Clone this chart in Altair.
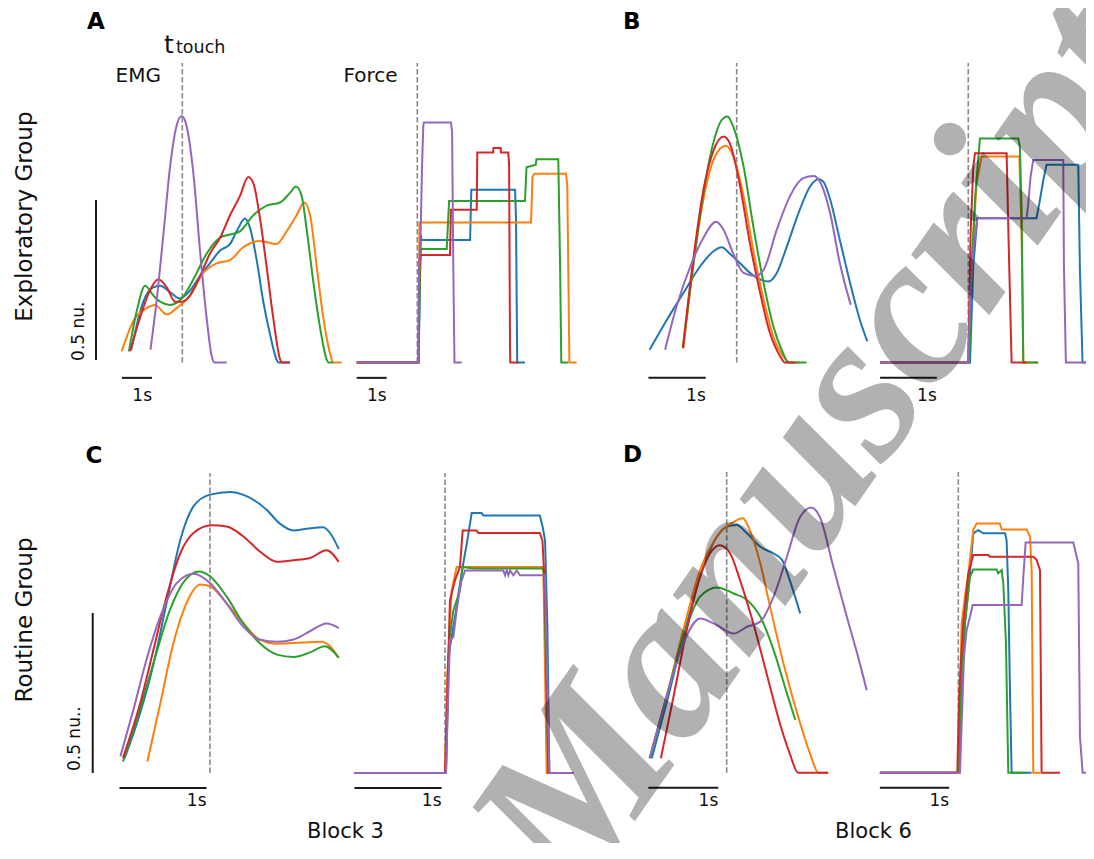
import altair as alt
import pandas as pd

# ---------------- colours / series ----------------
SERIES = ["blue", "orange", "green", "red", "purple"]
SERIES_COLORS = ["#1f77b4", "#ff7f0e", "#2ca02c", "#d62728", "#9467bd"]

# ---------------- Panel A : EMG (time s rel. t_touch, amplitude nu) ----------------
A_EMG_BLUE = [(-1.70, 0.04), (-1.30, 0.19), (-0.97, 0.235), (-0.74, 0.24), (-0.41, 0.22), (-0.08, 0.20),
              (0.26, 0.225), (0.59, 0.27), (0.92, 0.31), (1.26, 0.35), (1.59, 0.37), (1.81, 0.41),
              (2.09, 0.45), (2.26, 0.42), (2.48, 0.32), (2.70, 0.19), (2.92, 0.09), (3.14, 0.01),
              (3.20, 0.0), (3.59, 0.0)]
A_EMG_ORANGE = [(-2.02, 0.035), (-1.63, 0.13), (-1.19, 0.17), (-0.91, 0.18), (-0.52, 0.15), (-0.19, 0.17),
                (0.26, 0.21), (0.70, 0.28), (1.14, 0.31), (1.59, 0.32), (2.03, 0.36), (2.59, 0.38),
                (3.14, 0.37), (3.48, 0.41), (3.81, 0.46), (4.06, 0.50), (4.26, 0.46), (4.48, 0.30),
                (4.70, 0.14), (4.92, 0.03), (5.03, 0.0), (5.31, 0.0)]
A_EMG_GREEN = [(-1.78, 0.035), (-1.52, 0.16), (-1.24, 0.24), (-0.97, 0.21), (-0.74, 0.19), (-0.41, 0.18),
               (-0.02, 0.20), (0.37, 0.26), (0.81, 0.34), (1.26, 0.39), (1.59, 0.40), (1.92, 0.41),
               (2.37, 0.46), (2.81, 0.49), (3.26, 0.50), (3.59, 0.53), (3.79, 0.55), (3.98, 0.52),
               (4.14, 0.42), (4.37, 0.25), (4.59, 0.11), (4.81, 0.01), (4.87, 0.0), (5.03, 0.0)]
A_EMG_RED = [(-1.74, 0.035), (-1.41, 0.14), (-1.08, 0.225), (-0.80, 0.26), (-0.52, 0.235), (-0.24, 0.19),
             (-0.02, 0.19), (0.26, 0.21), (0.59, 0.27), (0.92, 0.34), (1.26, 0.39), (1.59, 0.46),
             (1.92, 0.52), (2.20, 0.58), (2.37, 0.56), (2.59, 0.45), (2.81, 0.30), (3.03, 0.14),
             (3.26, 0.01), (3.31, 0.0), (3.59, 0.0)]
A_EMG_PURPLE = [(-1.06, 0.04), (-0.86, 0.19), (-0.63, 0.40), (-0.41, 0.61), (-0.19, 0.74), (-0.02, 0.77),
                (0.14, 0.74), (0.37, 0.59), (0.59, 0.35), (0.81, 0.14), (0.98, 0.02), (1.06, 0.0), (1.48, 0.0)]

# ---------------- Panel A : Force ----------------
A_F_BLUE = [(-2.02, 0), (0.04, 0), (0.12, 0.40), (0.14, 0.383), (1.76, 0.383), (1.80, 0.54), (3.26, 0.54),
            (3.29, 0.45), (3.33, 0), (3.59, 0)]
A_F_ORANGE = [(-2.02, 0), (0.05, 0), (0.07, 0.4375), (3.79, 0.4375), (3.84, 0.58), (3.90, 0.59), (4.96, 0.59),
              (5.00, 0.55), (5.07, 0), (5.31, 0)]
A_F_GREEN = [(-2.02, 0), (0.04, 0), (0.10, 0.34), (0.14, 0.355), (0.98, 0.355), (1.06, 0.505), (3.59, 0.505),
             (3.64, 0.61), (3.95, 0.618), (3.97, 0.635), (4.70, 0.635), (4.76, 0.30), (4.80, 0), (5.03, 0)]
A_F_RED = [(-2.02, 0), (0.04, 0), (0.07, 0.30), (0.11, 0.336), (1.09, 0.336), (1.12, 0.477), (1.98, 0.477),
           (2.00, 0.656), (2.53, 0.656), (2.54, 0.67), (2.78, 0.67), (2.79, 0.656), (3.03, 0.656),
           (3.06, 0.62), (3.09, 0.05), (3.10, 0), (3.37, 0)]
A_F_PURPLE = [(-2.02, 0), (0.03, 0), (0.06, 0.30), (0.11, 0.40), (0.16, 0.62), (0.20, 0.74), (0.22, 0.75),
              (1.12, 0.75), (1.16, 0.72), (1.20, 0.30), (1.24, 0), (1.48, 0)]

# ---------------- Panel B : EMG ----------------
B_EMG_BLUE = [(-1.52, 0.04), (-1.22, 0.133), (-0.93, 0.217), (-0.64, 0.30), (-0.41, 0.347), (-0.26, 0.36),
              (-0.12, 0.34), (0.06, 0.31), (0.23, 0.28), (0.41, 0.26), (0.55, 0.253), (0.70, 0.28),
              (0.87, 0.36), (1.10, 0.477), (1.28, 0.55), (1.42, 0.573), (1.51, 0.566), (1.63, 0.51),
              (1.80, 0.383), (1.98, 0.248), (2.15, 0.133), (2.28, 0.066)]
B_EMG_ORANGE = [(-0.93, 0.045), (-0.76, 0.30), (-0.58, 0.51), (-0.38, 0.644), (-0.19, 0.677), (-0.06, 0.644),
                (0.12, 0.52), (0.29, 0.35), (0.47, 0.196), (0.64, 0.081), (0.84, 0.0135), (0.93, 0), (1.10, 0)]
B_EMG_GREEN = [(-0.94, 0.045), (-0.76, 0.30), (-0.58, 0.53), (-0.41, 0.685), (-0.26, 0.758), (-0.16, 0.769),
               (-0.06, 0.737), (0.12, 0.6125), (0.29, 0.425), (0.47, 0.248), (0.64, 0.1125), (0.81, 0.029),
               (0.90, 0), (1.22, 0)]
B_EMG_RED = [(-0.94, 0.045), (-0.76, 0.32), (-0.58, 0.54), (-0.41, 0.66), (-0.23, 0.706), (-0.12, 0.685),
             (0.06, 0.55), (0.23, 0.373), (0.41, 0.217), (0.58, 0.092), (0.76, 0.019), (0.84, 0), (1.02, 0)]
B_EMG_PURPLE = [(-1.25, 0.04), (-1.05, 0.175), (-0.81, 0.30), (-0.58, 0.39), (-0.36, 0.44), (-0.23, 0.415),
                (-0.06, 0.34), (0.12, 0.28), (0.32, 0.27), (0.47, 0.29), (0.70, 0.415), (0.93, 0.52),
                (1.16, 0.576), (1.34, 0.583), (1.45, 0.566), (1.63, 0.467), (1.80, 0.31), (1.99, 0.18)]

# ---------------- Panel B : Force ----------------
B_F_BLUE = [(-1.54, 0), (0.03, 0), (0.087, 0.30), (0.157, 0.451), (1.19, 0.451), (1.25, 0.508), (1.31, 0.571),
            (1.366, 0.618), (1.919, 0.618), (1.948, 0.29), (1.994, 0), (2.19, 0)]
B_F_ORANGE = [(-1.54, 0), (0.0, 0), (0.058, 0.30), (0.145, 0.56), (0.233, 0.644), (0.89, 0.644), (0.93, 0.404),
              (0.96, 0), (1.22, 0)]
B_F_GREEN = [(-1.54, 0), (0.017, 0), (0.058, 0.30), (0.116, 0.508), (0.203, 0.70), (0.872, 0.70), (0.90, 0.675),
             (0.93, 0.477), (0.96, 0), (1.22, 0)]
B_F_RED = [(-1.54, 0), (0.0, 0), (0.04, 0.404), (0.087, 0.6125), (0.116, 0.654), (0.669, 0.654), (0.70, 0.404),
           (0.756, 0), (1.02, 0)]
B_F_PURPLE = [(-1.54, 0), (0.0, 0), (0.03, 0.196), (0.087, 0.352), (0.157, 0.451), (1.017, 0.451), (1.047, 0.498),
              (1.087, 0.581), (1.134, 0.633), (1.657, 0.633), (1.669, 0.30), (1.703, 0), (2.19, 0)]

# ---------------- Panel C : EMG ----------------
C_EMG_BLUE = [(-0.98, 0.047), (-0.80, 0.19), (-0.65, 0.34), (-0.50, 0.53), (-0.34, 0.73), (-0.19, 0.833),
              (0.0, 0.87), (0.23, 0.878), (0.42, 0.865), (0.65, 0.823), (0.80, 0.78), (0.96, 0.758),
              (1.11, 0.763), (1.30, 0.768), (1.38, 0.75), (1.48, 0.70)]
C_EMG_ORANGE = [(-0.72, 0.036), (-0.57, 0.219), (-0.42, 0.406), (-0.27, 0.531), (-0.11, 0.589), (0.0, 0.583),
                (0.19, 0.531), (0.38, 0.469), (0.57, 0.417), (0.77, 0.404), (0.96, 0.406), (1.28, 0.41),
                (1.38, 0.396), (1.48, 0.36)]
C_EMG_GREEN = [(-1.0, 0.036), (-0.84, 0.167), (-0.65, 0.344), (-0.46, 0.51), (-0.31, 0.594), (-0.13, 0.63),
               (0.0, 0.615), (0.19, 0.552), (0.38, 0.469), (0.57, 0.406), (0.77, 0.37), (0.96, 0.3625),
               (1.15, 0.377), (1.32, 0.396), (1.48, 0.36)]
C_EMG_RED = [(-1.0, 0.047), (-0.80, 0.22), (-0.65, 0.385), (-0.50, 0.55), (-0.34, 0.6875), (-0.19, 0.75),
             (0.02, 0.774), (0.19, 0.77), (0.38, 0.74), (0.57, 0.693), (0.77, 0.66), (0.96, 0.665),
             (1.15, 0.672), (1.34, 0.696), (1.48, 0.66)]
C_EMG_PURPLE = [(-1.03, 0.052), (-0.88, 0.198), (-0.73, 0.354), (-0.57, 0.49), (-0.38, 0.594), (-0.19, 0.623),
                (0.0, 0.594), (0.19, 0.53), (0.38, 0.458), (0.57, 0.417), (0.77, 0.41), (0.96, 0.417),
                (1.15, 0.443), (1.34, 0.467), (1.48, 0.453)]

# ---------------- Panel C : Force ----------------
C_F_BLUE = [(-1.046, 0), (0.011, 0), (0.038, 0.3625), (0.115, 0.4875), (0.19, 0.623), (0.25, 0.717),
            (0.307, 0.8125), (0.42, 0.8125), (0.44, 0.805), (1.09, 0.805), (1.123, 0.769), (1.15, 0.727),
            (1.176, 0.467), (1.2, 0), (1.475, 0)]
C_F_ORANGE = [(-1.046, 0), (0.0, 0), (0.027, 0.31), (0.077, 0.571), (0.134, 0.644), (1.13, 0.644), (1.169, 0),
              (1.475, 0)]
C_F_GREEN = [(-1.046, 0), (0.011, 0), (0.05, 0.415), (0.096, 0.508), (0.172, 0.571), (0.203, 0.644),
             (0.326, 0.639), (1.123, 0.639), (1.138, 0.623), (1.188, 0), (1.475, 0)]
C_F_RED = [(-1.046, 0), (0.0, 0), (0.027, 0.258), (0.057, 0.54), (0.115, 0.602), (0.172, 0.644), (0.203, 0.758),
           (0.364, 0.758), (0.383, 0.75), (1.09, 0.75), (1.12, 0.727), (1.149, 0.571), (1.188, 0), (1.475, 0)]
C_F_PURPLE = [(-1.046, 0), (0.011, 0), (0.038, 0.258), (0.057, 0.415), (0.096, 0.425), (0.134, 0.508),
              (0.18, 0.592), (0.23, 0.633), (0.67, 0.633), (0.69, 0.618), (0.709, 0.633), (0.728, 0.618),
              (0.747, 0.633), (0.785, 0.618), (0.824, 0.633), (0.862, 0.618), (1.149, 0.618), (1.169, 0.3625),
              (1.2, 0), (1.475, 0)]

# ---------------- Panel D : EMG ----------------
D_EMG_BLUE = [(-1.07, 0.045), (-0.86, 0.217), (-0.62, 0.425), (-0.38, 0.6125), (-0.14, 0.7375), (0.0, 0.769),
              (0.14, 0.774), (0.29, 0.748), (0.48, 0.706), (0.67, 0.685), (0.79, 0.665), (0.90, 0.602),
              (1.05, 0.498)]
D_EMG_ORANGE = [(-1.10, 0.045), (-0.86, 0.2375), (-0.62, 0.446), (-0.38, 0.633), (-0.14, 0.7375), (0.10, 0.784),
                (0.23, 0.795), (0.33, 0.758), (0.48, 0.654), (0.62, 0.519), (0.81, 0.342), (1.05, 0.154),
                (1.19, 0.06), (1.31, 0.0), (1.45, 0.0)]
D_EMG_GREEN = [(-1.10, 0.045), (-0.86, 0.2375), (-0.62, 0.425), (-0.38, 0.55), (-0.14, 0.579), (0.10, 0.56),
               (0.29, 0.54), (0.48, 0.4875), (0.67, 0.383), (0.86, 0.248), (0.98, 0.165)]
D_EMG_RED = [(-0.94, 0.045), (-0.76, 0.2375), (-0.57, 0.446), (-0.38, 0.6125), (-0.24, 0.685), (-0.10, 0.711),
             (0.05, 0.685), (0.19, 0.602), (0.38, 0.467), (0.57, 0.31), (0.76, 0.154), (0.90, 0.06),
             (1.02, 0.0), (1.45, 0.0)]
D_EMG_PURPLE = [(-1.10, 0.045), (-0.86, 0.2375), (-0.62, 0.404), (-0.38, 0.482), (-0.19, 0.467), (0.10, 0.435),
                (0.29, 0.456), (0.48, 0.472), (0.67, 0.55), (0.86, 0.675), (1.05, 0.80), (1.21, 0.829),
                (1.33, 0.80), (1.52, 0.646), (1.71, 0.492), (1.86, 0.376), (2.0, 0.258)]

# ---------------- Panel D : Force ----------------
D_F_BLUE = [(-1.12, 0), (0.005, 0), (0.048, 0.258), (0.095, 0.467), (0.167, 0.623), (0.214, 0.748),
            (0.286, 0.758), (0.357, 0.748), (0.667, 0.748), (0.69, 0.727), (0.714, 0.571), (0.738, 0.258),
            (0.762, 0), (1.048, 0)]
D_F_ORANGE = [(-1.12, 0), (0.0, 0), (0.024, 0.258), (0.048, 0.467), (0.095, 0.55), (0.143, 0.623),
              (0.214, 0.758), (0.262, 0.779), (0.595, 0.779), (0.62, 0.76), (0.976, 0.76), (1.024, 0.7375),
              (1.048, 0.633), (1.071, 0), (1.167, 0)]
D_F_GREEN = [(-1.12, 0), (0.0, 0), (0.033, 0.258), (0.095, 0.467), (0.167, 0.6125), (0.214, 0.635),
             (0.548, 0.635), (0.571, 0.623), (0.619, 0.633), (0.643, 0.592), (0.681, 0.404), (0.714, 0),
             (0.976, 0)]
D_F_RED = [(-1.12, 0), (-0.014, 0), (0.014, 0.258), (0.071, 0.467), (0.143, 0.623), (0.214, 0.68),
           (0.429, 0.68), (0.452, 0.675), (1.071, 0.675), (1.119, 0.665), (1.167, 0.633), (1.19, 0), (1.452, 0)]
D_F_PURPLE = [(-1.12, 0), (0.024, 0), (0.048, 0.154), (0.081, 0.3625), (0.119, 0.446), (0.167, 0.4875),
              (0.205, 0.524), (0.905, 0.524), (0.929, 0.6125), (0.962, 0.719), (1.643, 0.719), (1.714, 0.654),
              (1.738, 0.1125), (1.776, 0), (1.938, 0)]

# scale bars: (start s, end s) of the 1 s bar in each panel
BAR_1S = {"A_EMG": (-2.01, -1.01), "A_FORCE": (-2.02, -1.02), "B_EMG": (-1.54, -0.54), "B_FORCE": (-1.54, -0.55),
          "C_EMG": (-1.04, -0.04), "C_FORCE": (-1.04, -0.04), "D_EMG": (-1.12, -0.12), "D_FORCE": (-1.12, -0.13)}

# ---------------- layout (style): x origin px, px per second, baseline px ----------------
NU_PX = 320.0
LAYOUT = {
    "A_EMG": (174.3, 30.0, 354.5), "A_FORCE": (409.3, 30.0, 354.5),
    "B_EMG": (728.7, 57.3, 354.5), "B_FORCE": (960.3, 57.3, 354.5),
    "C_EMG": (202.0, 87.0, 765.0), "C_FORCE": (437.0, 87.0, 765.0),
    "D_EMG": (718.7, 70.0, 764.7), "D_FORCE": (950.3, 70.0, 764.7),
}
FONT = "DejaVu Sans"
COLOR_SCALE = alt.Scale(domain=SERIES, range=SERIES_COLORS)


def scales(panel):
    ox, k, by = LAYOUT[panel]
    xs = alt.Scale(domain=[0, 1], range=[ox, ox + k], nice=False, zero=False)
    ys = alt.Scale(domain=[0, 1], range=[by, by - NU_PX], nice=False, zero=False)
    return xs, ys


def line_layers(panel, traces, interp, clip=False):
    xs, ys = scales(panel)
    out = []
    for name, pts in zip(SERIES, traces):
        df = pd.DataFrame({"t": [p[0] for p in pts], "v": [p[1] for p in pts],
                           "i": list(range(len(pts))), "trial": name})
        out.append(alt.Chart(df).mark_line(strokeWidth=2, interpolate=interp, clip=clip).encode(
            x=alt.X("t:Q", scale=xs, axis=None),
            y=alt.Y("v:Q", scale=ys, axis=None),
            color=alt.Color("trial:N", scale=COLOR_SCALE, legend=None),
            order=alt.Order("i:Q")))
    return out


def touch_line(panel, top):
    xs, ys = scales(panel)
    df = pd.DataFrame({"t": [0.0], "v0": [0.0], "v1": [top]})
    return alt.Chart(df).mark_rule(color="#8a8a8a", strokeWidth=1.6, strokeDash=[5.5, 2.5]).encode(
        x=alt.X("t:Q", scale=xs, axis=None), y=alt.Y("v0:Q", scale=ys, axis=None), y2="v1:Q")


def hbar(panel, t1, t2, v):
    xs, ys = scales(panel)
    df = pd.DataFrame({"t1": [t1], "t2": [t2], "v": [v]})
    return alt.Chart(df).mark_rule(color="#1a1a1a", strokeWidth=2).encode(
        x=alt.X("t1:Q", scale=xs, axis=None), x2="t2:Q", y=alt.Y("v:Q", scale=ys, axis=None))


def vbar(panel, t, v1, v2):
    xs, ys = scales(panel)
    df = pd.DataFrame({"t": [t], "v1": [v1], "v2": [v2]})
    return alt.Chart(df).mark_rule(color="#1a1a1a", strokeWidth=2).encode(
        x=alt.X("t:Q", scale=xs, axis=None), y=alt.Y("v1:Q", scale=ys, axis=None), y2="v2:Q")


def label(panel, t, v, txt, size, **kw):
    xs, ys = scales(panel)
    df = pd.DataFrame({"t": [t], "v": [v], "label": [txt]})
    props = dict(font=FONT, fontSize=size, color="#111111", baseline="alphabetic")
    props.update(kw)
    return alt.Chart(df).mark_text(**props).encode(
        x=alt.X("t:Q", scale=xs, axis=None), y=alt.Y("v:Q", scale=ys, axis=None), text="label:N")


layers = []

EMG = {"A_EMG": [A_EMG_BLUE, A_EMG_ORANGE, A_EMG_GREEN, A_EMG_RED, A_EMG_PURPLE],
       "B_EMG": [B_EMG_BLUE, B_EMG_ORANGE, B_EMG_GREEN, B_EMG_RED, B_EMG_PURPLE],
       "C_EMG": [C_EMG_BLUE, C_EMG_ORANGE, C_EMG_GREEN, C_EMG_RED, C_EMG_PURPLE],
       "D_EMG": [D_EMG_BLUE, D_EMG_ORANGE, D_EMG_GREEN, D_EMG_RED, D_EMG_PURPLE]}
FORCE = {"A_FORCE": [A_F_BLUE, A_F_ORANGE, A_F_GREEN, A_F_RED, A_F_PURPLE],
         "B_FORCE": [B_F_BLUE, B_F_ORANGE, B_F_GREEN, B_F_RED, B_F_PURPLE],
         "C_FORCE": [C_F_BLUE, C_F_ORANGE, C_F_GREEN, C_F_RED, C_F_PURPLE],
         "D_FORCE": [D_F_BLUE, D_F_ORANGE, D_F_GREEN, D_F_RED, D_F_PURPLE]}
TOUCH_TOP = {"A": 0.936, "B": 0.936, "C": 0.9375, "D": 0.94}

for p in ["A", "B", "C", "D"]:
    emg, frc = p + "_EMG", p + "_FORCE"
    layers.append(touch_line(emg, TOUCH_TOP[p]))
    layers.append(touch_line(frc, TOUCH_TOP[p]))
    layers += line_layers(emg, EMG[emg], "monotone")
    layers += line_layers(frc, FORCE[frc], "linear", clip=True)
    bar_v = -0.048 if p in "AB" else -0.047
    txt_v = -0.12 if p in "AB" else -0.103
    for pan in (emg, frc):
        t1, t2 = BAR_1S[pan]
        layers.append(hbar(pan, t1, t2, bar_v))
        layers.append(label(pan, t2, txt_v, "1s", 17, align="right"))

# amplitude scale bars
layers.append(vbar("A_EMG", -2.877, 0.008, 0.508))
layers.append(vbar("C_EMG", -1.348, 0.0, 0.5))
layers.append(label("A_EMG", -3.293, 0.005, "0.5 nu.", 17, angle=270, align="left"))
layers.append(label("C_EMG", -1.491, 0.006, "0.5 nu..", 17, angle=270, align="left"))

# panel letters
layers.append(label("A_EMG", -3.177, 1.041, "A", 23, fontWeight="bold", align="left", color="black"))
layers.append(label("B_EMG", -1.984, 1.041, "B", 23, fontWeight="bold", align="left", color="black"))
layers.append(label("C_EMG", -1.431, 0.970, "C", 23, fontWeight="bold", align="left", color="black"))
layers.append(label("D_EMG", -1.481, 0.970, "D", 23, fontWeight="bold", align="left", color="black"))

# headers
layers.append(label("A_EMG", -0.61, 0.967, "t", 25, align="left"))
layers.append(label("A_EMG", -0.21, 0.967, "touch", 17.5, align="left"))
layers.append(label("A_EMG", -2.227, 0.8775, "EMG", 20, align="left"))
layers.append(label("A_FORCE", -2.46, 0.8775, "Force", 20, align="left"))

# row / column titles
layers.append(label("A_EMG", -5.01, 0.456, "Exploratory Group", 23, angle=270, align="center"))
layers.append(label("C_EMG", -2.046, 0.478, "Routine Group", 23, angle=270, align="center"))
layers.append(label("C_EMG", 1.557, -0.203, "Block 3", 21, align="center"))
layers.append(label("D_EMG", 2.097, -0.204, "Block 6", 21, align="center"))

# watermark overlay
layers.append(label("D_EMG", -2.161, -0.4166, "Manuscript", 215, angle=305, align="left",
                    font="Liberation Serif", fontStyle="italic", fontWeight="bold",
                    color="black", opacity=0.3, clip=True))

chart = alt.layer(*layers).resolve_scale(x="independent", y="independent").properties(
    width=1078, height=835, padding=0
).configure_view(stroke=None)

chart.save("out.html", embed_options={"renderer": "svg", "actions": False})
